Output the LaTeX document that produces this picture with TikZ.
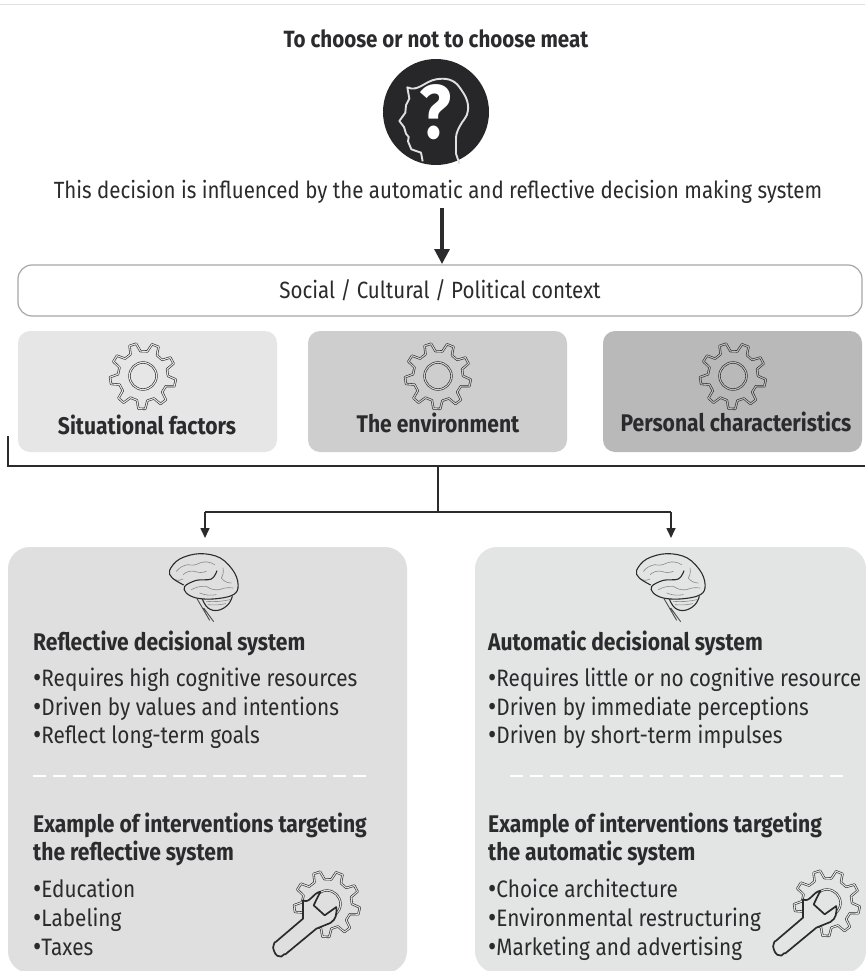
\documentclass[tikz,border=0pt]{standalone}
\usepackage{fontspec}
\setmainfont[FakeStretch=0.875]{Fira Sans}
\usetikzlibrary{arrows.meta}
\definecolor{ink}{HTML}{2B2B2D}
\definecolor{boxa}{HTML}{E6E6E6}
\definecolor{boxb}{HTML}{CECECE}
\definecolor{boxc}{HTML}{B9B9B9}
\definecolor{boxd}{HTML}{DFDFDF}
\definecolor{boxe}{HTML}{E3E4E4}
\newcommand{\bul}{{\fontsize{29}{27}\selectfont\raisebox{-1.5pt}{•}}}
\newcommand{\gearshape}[1]{%
  \draw[draw=ink,double=#1,line width=.6pt,double distance=1.1pt,line join=round]
    (0:25)
    \foreach \a in {0,40,...,320}{
      -- ({\a+6}:33) -- ({\a+18}:33) -- ({\a+24}:25)
      to[bend left=8] ({\a+40}:25)
    } -- cycle;
}
\tikzset{
  x=1pt,y=-1pt,
  txt/.style={text=ink,inner sep=0pt,anchor=base west,font=\fontsize{23.75}{27}\selectfont},
  head/.style={text=ink,inner sep=0pt,anchor=base west,font=\fontsize{24.1}{27}\selectfont\bfseries},
  lbl/.style={text=ink,inner sep=0pt,anchor=base,font=\fontsize{24.1}{27}\selectfont\bfseries},
  link/.style={draw=ink,line width=1.6pt},
  tip/.style={link,-{Triangle[length=10pt,width=9pt]}},
  factor/.style={rounded corners=12pt,draw=none},
  panel/.style={rounded corners=22pt,draw=none},
  gearicon/.pic={
    \begin{scope}[x=1pt,y=-1pt]
      \gearshape{#1}
      \draw[draw=ink,double=#1,line width=.6pt,double distance=1.1pt] (0,0) circle[radius=13.5];
    \end{scope}
  },
  gearicon/.default=boxa,
  wrenchicon/.pic={
    \begin{scope}[x=1pt,y=-1pt]
      \gearshape{#1}
      \draw[draw=ink,double=#1,line width=.6pt,double distance=1.1pt] (0,0) circle[radius=13.5];
    \end{scope}
    \begin{scope}[x=.3333pt,y=-.3333pt,shift={(-262,-161)}]
      \draw[draw=ink,fill=#1,line width=1.7pt,line join=round]
        (190,150) to[out=-30,in=190] (242,124) -- (222,165) -- (255,195) -- (290,170)
        to[out=-85,in=30] (272,218) -- (230,235) -- (137,312)
        to[out=135,in=-60] (122,318) to[out=190,in=-80] (100,290) to[out=-90,in=135] (108,275)
        -- (190,205) -- cycle;
    \end{scope}
  },
  brainicon/.pic={
    \begin{scope}[x=.3333pt,y=-.3333pt,shift={(-310,-130)}]
      \draw[ink!55,line width=.6pt,line cap=round]
        (230,95) to[bend left=20] (265,75) to[bend right=20] (300,70) to[bend left=25] (345,75)
        (250,105) to[bend left=25] (285,95) to[bend right=20] (320,95)
        (370,85) to[bend left=20] (365,115) to[bend right=25] (395,130)
        (225,120) to[bend right=25] (250,118)
        (275,150) to[bend left=15] (320,140) to[bend right=20] (360,150) to[bend left=15] (400,145)
        (300,160) to[bend right=15] (350,165)
        (320,185) to[bend right=8] (390,180) (325,195) to[bend right=8] (378,192);
      \draw[draw=ink,line width=1.1pt,line join=round]
        plot[smooth,tension=.6] coordinates {(252,136) (218,115) (210,92) (240,58) (300,42) (362,55) (405,100) (415,145) (395,168) (340,178) (290,175) (260,160) (255,140) (290,122) (335,118) (352,93)};
      \draw[draw=ink,line width=1.1pt]
        plot[smooth,tension=.7] coordinates {(308,178) (325,205) (355,212) (385,195) (398,170)};
      \draw[draw=ink!85,line width=.9pt]
        (292,177) -- (330,242) (312,205) -- (342,246);
    \end{scope}
  },
  headicon/.pic={
    \fill[ink!90!black] (0,0) circle[radius=53];
    \begin{scope}[x=.3333pt,y=-.3333pt,shift={(-180,-170)}]
      \draw[white!88!black,line width=1.9pt,line join=round]
        (140,318) -- (135,292) -- (106,282) -- (96,258) -- (98,245) -- (90,235) -- (84,215) -- (70,197)
        -- (88,172) -- (90,150) -- (100,130) -- (94,96)
        to[out=-25,in=190] (180,72) to[out=10,in=125] (250,95) to[out=-55,in=85] (276,165)
        to[out=-95,in=65] (250,215) to[out=-115,in=90] (240,250) -- (240,295) -- (250,325);
    \end{scope}
    \node[inner sep=0pt,text=white,font=\fontsize{76}{76}\selectfont\bfseries] (qmark) at (-1,0) {?};
  }
}
\begin{document}
\begin{tikzpicture}[x=1pt,y=-1pt]
\useasboundingbox (0,0) rectangle (865,971);
\fill[white] (0,0) rectangle (865,971);
\draw[gray!25,line width=1pt] (0,5) -- (865,5);

% top
\node[text=ink,inner sep=0pt,anchor=base,font=\fontsize{23.5}{27}\selectfont\bfseries] (title) at (436,48) {To choose or not to choose meat};
\pic at (436,112) {headicon};
\node[text=ink,inner sep=0pt,anchor=base,font=\fontsize{23.45}{27}\selectfont] (decision) at (438,198) {This decision is influenced by the automatic and reflective decision making system};

% context
\node[draw=gray!70,line width=1.2pt,fill=white,rounded corners=14pt,minimum width=844pt,minimum height=51pt,inner sep=0pt,text=ink,font=\fontsize{23.5}{27}\selectfont] (context) at (440,290.5) {Social / Cultural / Political context};
\coordinate (dropstart) at (442,208);
\coordinate (dropend) at (442,264);
\draw[draw=ink,line width=3.2pt,-{Triangle[length=15pt,width=15pt]}] (dropstart) -- (dropend);

% factors
\node[factor,fill=boxa,minimum width=259pt,minimum height=121pt] (situ) at (147.5,391.5) {};
\node[factor,fill=boxb,minimum width=259pt,minimum height=121pt] (envi) at (437.5,391.5) {};
\node[factor,fill=boxc,minimum width=259pt,minimum height=121pt] (pers) at (732.5,391.5) {};
\pic at (143,376) {gearicon=boxa};
\pic at (438,376) {gearicon=boxb};
\pic at (733,376) {gearicon=boxc};
\node[lbl] (situt) at (147,434) {Situational factors};
\node[lbl] (envit) at (438,432) {The environment};
\node[lbl] (perst) at (736,431) {Personal characteristics};

% panels
\node[panel,fill=boxd,minimum width=399pt,minimum height=426pt] (refl) at (207.5,760) {};
\node[panel,fill=boxe,minimum width=391pt,minimum height=426pt] (auto) at (670.5,760) {};

% connectors
\coordinate (busleft) at (8,436);
\coordinate (buscorner) at (8,466);
\coordinate (busright) at (865,466);
\coordinate (busmid) at (438,466);
\coordinate (fork) at (438,512);
\coordinate (forkl) at (205,512);
\coordinate (forkr) at (671,512);
\coordinate (tipl) at (205,538);
\coordinate (tipr) at (671,538);
\draw[link] (busleft) -- (buscorner) -- (busright);
\draw[link] (busmid) -- (fork);
\draw[link] (forkl) -- (forkr);
\draw[tip] (forkl) -- (tipl);
\draw[tip] (forkr) -- (tipr);

% icons
\pic at (203,583) {brainicon};
\pic at (670,583) {brainicon};

% left panel text
\node[head] (rh) at (33,650) {Reflective decisional system};
\node[txt] (r1) at (33,686) {\bul Requires high cognitive resources};
\node[txt] (r2) at (33,715) {\bul Driven by values and intentions};
\node[txt] (r3) at (33,743) {\bul Reflect long-term goals};
\draw[white,line width=1.4pt,dash pattern=on 13pt off 7pt] (33,776) -- (373,776);
\node[head] (re1) at (33,832) {Example of interventions targeting};
\node[head] (re2) at (33,860) {the reflective system};
\node[txt] (r4) at (33,897) {\bul Education};
\node[txt] (r5) at (33,926) {\bul Labeling};
\node[txt] (r6) at (33,955) {\bul Taxes};
\pic at (327,904) {wrenchicon=boxd};

% right panel text
\node[head] (ah) at (488,650) {Automatic decisional system};
\node[txt] (a1) at (488,686) {\bul Requires little or no cognitive resource};
\node[txt] (a2) at (488,715) {\bul Driven by immediate perceptions};
\node[txt] (a3) at (488,743) {\bul Driven by short-term impulses};
\draw[white,line width=1.4pt,dash pattern=on 13pt off 7pt] (510,776) -- (850,776);
\node[head] (ae1) at (488,832) {Example of interventions targeting};
\node[head] (ae2) at (488,860) {the automatic system};
\node[txt] (a4) at (488,897) {\bul Choice architecture};
\node[txt] (a5) at (488,926) {\bul Environmental restructuring};
\node[txt] (a6) at (488,955) {\bul Marketing and advertising};
\pic at (827,903) {wrenchicon=boxe};
\end{tikzpicture}
\end{document}
